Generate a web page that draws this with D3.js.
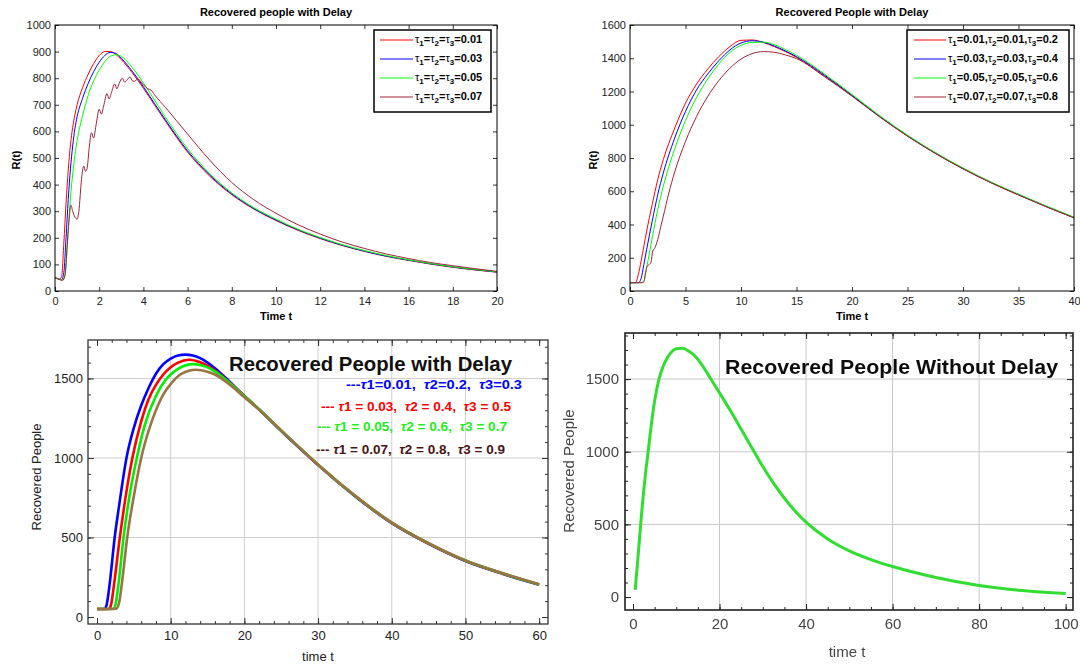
<!DOCTYPE html>
<html>
<head>
<meta charset="UTF-8">
<script src="https://d3js.org/d3.v7.min.js"></script>
<style>
  body { margin: 0; background: #fff; }
  text { white-space: pre; }
</style>
</head>
<body>
<svg></svg>
<script>
const W = 1080, H = 668;
const FONT = "Liberation Sans, Arial, Helvetica, sans-serif";

// ---------- top left: tau1 = tau2 = tau3 ----------
const tlTime = [0, 0.1, 0.2, 0.3, 0.4, 0.5, 0.6, 0.7, 0.8, 0.9, 1, 1.25, 1.5, 1.75, 2, 2.25, 2.5, 2.75, 3, 3.5, 4, 4.5, 5, 6, 7, 8, 9, 10, 11, 12, 13, 14, 15, 16, 17, 18, 19, 20];
const tlTau001 = [50, 47, 44, 55, 180, 330, 455, 550, 615, 662, 700, 765, 815, 855, 885, 900, 900, 890, 870, 820, 762, 700, 638, 522, 432, 362, 308, 265, 228, 197, 171, 149, 130, 115, 101, 89, 79, 71];
const tlTau003 = [50, 47, 44, 42, 70, 200, 345, 460, 545, 610, 655, 725, 780, 825, 860, 885, 897, 893, 875, 826, 768, 705, 643, 527, 436, 365, 310, 267, 230, 199, 172, 150, 131, 116, 102, 90, 80, 71];
const tlTau005 = [50, 47, 44, 42, 45, 90, 230, 350, 440, 510, 565, 660, 735, 790, 830, 862, 882, 888, 882, 840, 782, 718, 653, 535, 441, 369, 313, 270, 232, 201, 174, 152, 133, 117, 103, 91, 81, 72];
const tlTimeOsc = [0, 0.2, 0.35, 0.45, 0.55, 0.65, 0.72, 0.8, 0.9, 1.0, 1.08, 1.2, 1.3, 1.38, 1.45, 1.55, 1.65, 1.75, 1.85, 2.0, 2.1, 2.2, 2.35, 2.45, 2.55, 2.7, 2.8, 2.9, 3.05, 3.15, 3.25, 3.4, 3.5, 3.6, 3.75, 3.85, 4.0, 4.2, 4.35, 4.5, 5, 5.5, 6, 7, 8, 9, 10, 11, 12, 13, 14, 15, 16, 17, 18, 19, 20];
const tlTau007 = [50, 43, 40, 60, 170, 280, 323, 300, 278, 270, 300, 420, 470, 450, 460, 540, 595, 575, 620, 683, 665, 695, 742, 722, 745, 778, 760, 780, 800, 785, 792, 805, 790, 788, 798, 790, 775, 760, 755, 738, 690, 640, 590, 492, 408, 343, 292, 249, 214, 184, 160, 139, 122, 107, 95, 84, 74];
const tlTaus = ["0.01", "0.03", "0.05", "0.07"];
const tlXTicks = d3.range(0, 21, 2);
const tlYTicks = d3.range(0, 1001, 100);

// ---------- top right: different tau3 ----------
const trTime = [0, 0.5, 0.75, 1, 1.25, 1.5, 2, 2.5, 3, 4, 5, 6, 7, 8, 9, 10, 11, 12, 13, 14, 15, 17.5, 20, 22.5, 25, 27.5, 30, 32.5, 35, 37.5, 40];
const trSet1 = [50, 50, 100, 180, 270, 360, 520, 670, 790, 975, 1130, 1245, 1335, 1410, 1470, 1508, 1510, 1495, 1470, 1440, 1405, 1295, 1175, 1048, 932, 828, 735, 652, 578, 507, 440];
const trSet2 = [50, 50, 50, 75, 160, 250, 420, 580, 710, 915, 1080, 1210, 1305, 1385, 1450, 1492, 1505, 1497, 1474, 1444, 1410, 1300, 1177, 1050, 934, 830, 737, 654, 580, 509, 442];
const trSet3 = [50, 50, 50, 50, 60, 140, 320, 490, 630, 850, 1025, 1165, 1275, 1365, 1435, 1478, 1495, 1497, 1482, 1452, 1418, 1306, 1182, 1054, 937, 833, 740, 656, 582, 511, 444];
const trTime4 = [0, 1.1, 1.25, 1.4, 1.55, 1.75, 1.9, 2.05, 2.25, 2.5, 2.75, 3, 3.5, 4, 5, 6, 7, 8, 9, 10, 11, 12, 13, 14, 15, 17.5, 20, 22.5, 25, 27.5, 30, 32.5, 35, 37.5, 40];
const trSet4 = [50, 50, 55, 110, 150, 160, 175, 240, 260, 310, 380, 450, 590, 710, 900, 1050, 1170, 1265, 1340, 1395, 1428, 1440, 1436, 1420, 1398, 1290, 1172, 1047, 931, 828, 735, 652, 578, 507, 440];
const trTau1 = ["0.01", "0.03", "0.05", "0.07"];
const trTau2 = ["0.01", "0.03", "0.05", "0.07"];
const trTau3 = ["0.2", "0.4", "0.6", "0.8"];
const trXTicks = d3.range(0, 41, 5);
const trYTicks = d3.range(0, 1601, 200);

// ---------- bottom left: Mathematica style, with delay ----------
const blTimeBlue = [0, 1, 1.3, 1.7, 2.4, 3, 4, 5, 6, 7, 8, 9, 10, 11, 12, 13, 14, 15, 16, 18, 20, 22, 25, 28, 30, 35, 40, 45, 50, 55, 60];
const blBlue = [50, 50, 75, 200, 500, 700, 1000, 1190, 1330, 1440, 1530, 1590, 1625, 1645, 1650, 1645, 1628, 1600, 1565, 1480, 1390, 1305, 1170, 1040, 955, 760, 590, 460, 352, 272, 203];
const blTimeRed = [0, 1.6, 1.9, 2.3, 3.1, 3.8, 4.8, 6, 7, 8, 9, 10, 11, 12.5, 14, 15, 16, 18, 20, 22, 25, 28, 30, 35, 40, 45, 50, 55, 60];
const blRed = [50, 50, 75, 200, 500, 730, 1000, 1230, 1370, 1460, 1525, 1570, 1600, 1618, 1602, 1580, 1550, 1475, 1390, 1306, 1172, 1042, 957, 762, 592, 462, 354, 274, 204];
const blTimeGreen = [0, 2.2, 2.5, 2.9, 3.6, 4.4, 5.4, 6.5, 8, 9.3, 10, 11, 13, 14, 15, 16, 18, 20, 22, 25, 28, 30, 35, 40, 45, 50, 55, 60];
const blGreen = [50, 50, 75, 200, 500, 760, 1000, 1210, 1390, 1490, 1525, 1560, 1590, 1585, 1570, 1545, 1472, 1388, 1306, 1173, 1043, 958, 763, 593, 463, 355, 275, 205];
const blTimeBrown = [0, 2.6, 3, 3.4, 4.1, 5, 6, 7, 8, 9, 10, 11.5, 13.4, 15, 16, 18, 20, 22, 25, 28, 30, 35, 40, 45, 50, 55, 60];
const blBrown = [50, 52, 90, 220, 500, 760, 1000, 1170, 1300, 1400, 1465, 1530, 1555, 1543, 1525, 1462, 1382, 1304, 1172, 1043, 958, 764, 594, 464, 356, 276, 206];
const blTau1 = ["0.01", "0.03", "0.05", "0.07"];
const blTau2 = ["0.2", "0.4", "0.6", "0.8"];
const blTau3 = ["0.3", "0.5", "0.7", "0.9"];
const blXTicks = d3.range(0, 61, 10);
const blYTicks = [0, 500, 1000, 1500];

// ---------- bottom right: without delay ----------
const brTime = [0.5, 1, 1.5, 2, 2.5, 3, 3.5, 4, 5, 6, 7, 8, 9, 10, 11.5, 13, 14, 16, 18, 20, 22.5, 25, 27.5, 30, 32.5, 35, 37.5, 40, 45, 50, 55, 60, 70, 80, 90, 100];
const brValues = [50, 220, 400, 580, 740, 880, 1000, 1130, 1350, 1500, 1590, 1650, 1690, 1708, 1712, 1690, 1668, 1595, 1500, 1405, 1283, 1155, 1025, 898, 782, 680, 590, 515, 400, 318, 258, 210, 135, 80, 45, 25];
const brXTicks = d3.range(0, 101, 20);
const brYTicks = [0, 500, 1000, 1500];

const svg = d3.select("svg").attr("width", W).attr("height", H).attr("font-family", FONT);
svg.append("rect").attr("width", W).attr("height", H).attr("fill", "#fff");

const fmt = d3.format("d");

// MATLAB-like panel (top row)
function matlabPanel(box, xDom, yDom, xTicks, yTicks) {
  const x = d3.scaleLinear().domain(xDom).range([box.left, box.right]);
  const y = d3.scaleLinear().domain(yDom).range([box.bottom, box.top]);
  const g = svg.append("g");
  const axes = [
    [d3.axisBottom(x).tickValues(xTicks).tickFormat(fmt).tickPadding(6), `translate(0,${box.bottom})`],
    [d3.axisTop(x).tickValues(xTicks).tickFormat(""), `translate(0,${box.top})`],
    [d3.axisLeft(y).tickValues(yTicks).tickFormat(fmt).tickPadding(4), `translate(${box.left},0)`],
    [d3.axisRight(y).tickValues(yTicks).tickFormat(""), `translate(${box.right},0)`]
  ];
  axes.forEach(([ax, tr]) => {
    g.append("g").attr("transform", tr)
      .call(ax.tickSizeInner(-4).tickSizeOuter(0))
      .attr("font-family", FONT).attr("font-size", 11);
  });
  g.selectAll(".domain").remove();
  g.selectAll(".tick line").attr("stroke", "#000").attr("stroke-width", 0.8);
  g.selectAll(".tick text").attr("fill", "#222");
  return { x, y, g };
}

function drawLines(p, series, width) {
  const line = d3.line().x(d => p.x(d[0])).y(d => p.y(d[1])).curve(d3.curveMonotoneX);
  series.forEach(s => {
    p.g.append("path").datum(d3.zip(s.t, s.v))
      .attr("d", line).attr("fill", "none")
      .attr("stroke", s.color).attr("stroke-width", width)
      .attr("stroke-linejoin", "round");
  });
}

function frame(p, box, color, w) {
  p.g.append("rect")
    .attr("x", box.left).attr("y", box.top)
    .attr("width", box.right - box.left).attr("height", box.bottom - box.top)
    .attr("fill", "none").attr("stroke", color).attr("stroke-width", w);
}

// tau label with subscripts: parts = [[sub, value], ...]
function tauText(sel, parts, sep) {
  parts.forEach((pt, i) => {
    sel.append("tspan").text("\u03c4").attr("font-weight", "normal");
    sel.append("tspan").text(pt[0]).attr("dy", 3).attr("font-size", 8);
    sel.append("tspan").text("=" + pt[1] + (i < parts.length - 1 ? sep : "")).attr("dy", -3);
  });
}

// ===== top left =====
const tlBox = { left: 55, right: 497, top: 25, bottom: 291 };
const p1 = matlabPanel(tlBox, [0, 20], [0, 1000], tlXTicks, tlYTicks);
const tlColors = ["#ff0000", "#0000ff", "#00ff00", "#a3223a"];
drawLines(p1, [
  { t: tlTime, v: tlTau001, color: tlColors[0] },
  { t: tlTime, v: tlTau003, color: tlColors[1] },
  { t: tlTime, v: tlTau005, color: tlColors[2] },
  { t: tlTimeOsc, v: tlTau007, color: tlColors[3] }
], 1);
frame(p1, tlBox, "#000", 1);
p1.g.append("text").attr("x", 276).attr("y", 16).attr("text-anchor", "middle")
  .attr("font-size", 11).attr("font-weight", "bold").text("Recovered people with Delay");
p1.g.append("text").attr("x", 276).attr("y", 320).attr("text-anchor", "middle")
  .attr("font-size", 11).attr("font-weight", "bold").text("Time t");
p1.g.append("text").attr("transform", "translate(20,160) rotate(-90)").attr("text-anchor", "middle")
  .attr("font-size", 11).attr("font-weight", "bold").text("R(t)");
// legend
const lg1 = p1.g.append("g");
lg1.append("rect").attr("x", 374).attr("y", 30).attr("width", 117).attr("height", 82)
  .attr("fill", "#fff").attr("stroke", "#000").attr("stroke-width", 1.5);
tlTaus.forEach((tv, i) => {
  const yy = 40 + i * 19;
  lg1.append("line").attr("x1", 380).attr("x2", 413).attr("y1", yy).attr("y2", yy)
    .attr("stroke", tlColors[i]).attr("stroke-width", 1);
  const t = lg1.append("text").attr("x", 415).attr("y", yy + 3).attr("font-size", 11).attr("font-weight", "bold");
  t.append("tspan").text("\u03c4").attr("font-weight", "normal");
  t.append("tspan").text("1").attr("dy", 3).attr("font-size", 8);
  t.append("tspan").text("=").attr("dy", -3);
  t.append("tspan").text("\u03c4").attr("font-weight", "normal");
  t.append("tspan").text("2").attr("dy", 3).attr("font-size", 8);
  t.append("tspan").text("=").attr("dy", -3);
  t.append("tspan").text("\u03c4").attr("font-weight", "normal");
  t.append("tspan").text("3").attr("dy", 3).attr("font-size", 8);
  t.append("tspan").text("=" + tv).attr("dy", -3);
});

// ===== top right =====
const trBox = { left: 630, right: 1074, top: 25, bottom: 291 };
const p2 = matlabPanel(trBox, [0, 40], [0, 1600], trXTicks, trYTicks);
drawLines(p2, [
  { t: trTime, v: trSet1, color: tlColors[0] },
  { t: trTime, v: trSet2, color: tlColors[1] },
  { t: trTime, v: trSet3, color: tlColors[2] },
  { t: trTime4, v: trSet4, color: tlColors[3] }
], 1);
frame(p2, trBox, "#000", 1);
p2.g.append("text").attr("x", 852).attr("y", 16).attr("text-anchor", "middle")
  .attr("font-size", 11).attr("font-weight", "bold").text("Recovered People with Delay");
p2.g.append("text").attr("x", 852).attr("y", 320).attr("text-anchor", "middle")
  .attr("font-size", 11).attr("font-weight", "bold").text("Time t");
p2.g.append("text").attr("transform", "translate(597,160) rotate(-90)").attr("text-anchor", "middle")
  .attr("font-size", 11).attr("font-weight", "bold").text("R(t)");
const lg2 = p2.g.append("g");
lg2.append("rect").attr("x", 907).attr("y", 30).attr("width", 162).attr("height", 82)
  .attr("fill", "#fff").attr("stroke", "#000").attr("stroke-width", 1.5);
trTau1.forEach((tv, i) => {
  const yy = 40 + i * 19;
  lg2.append("line").attr("x1", 914).attr("x2", 946).attr("y1", yy).attr("y2", yy)
    .attr("stroke", tlColors[i]).attr("stroke-width", 1);
  const t = lg2.append("text").attr("x", 948).attr("y", yy + 3).attr("font-size", 11).attr("font-weight", "bold");
  tauText(t, [["1", tv], ["2", trTau2[i]], ["3", trTau3[i]]], ",");
});

// Mathematica-like panel (bottom row)
function mmaPanel(box, xDom, yDom, xMajor, xMinor, yMajor, yMinor, st) {
  const x = d3.scaleLinear().domain(xDom).range([box.left, box.right]);
  const y = d3.scaleLinear().domain(yDom).range([box.bottom, box.top]);
  const g = svg.append("g");
  // grid
  const gx = xMajor.filter(v => v > xMajor[0] && v < xMajor[xMajor.length - 1]);
  const gy = yMajor.filter(v => v > 0);
  g.selectAll(null).data(gx).join("line")
    .attr("x1", d => x(d)).attr("x2", d => x(d)).attr("y1", box.top).attr("y2", box.bottom)
    .attr("stroke", st.grid).attr("stroke-width", 1);
  g.selectAll(null).data(gy).join("line")
    .attr("y1", d => y(d)).attr("y2", d => y(d)).attr("x1", box.left).attr("x2", box.right)
    .attr("stroke", st.grid).attr("stroke-width", 1);
  const ticks = g.append("g");
  const defs = [
    [d3.axisBottom, x, xMajor, xMinor, `translate(0,${box.bottom})`, true, st.xPad],
    [d3.axisTop, x, xMajor, xMinor, `translate(0,${box.top})`, false, 0],
    [d3.axisLeft, y, yMajor, yMinor, `translate(${box.left},0)`, true, st.yPad],
    [d3.axisRight, y, yMajor, yMinor, `translate(${box.right},0)`, false, 0]
  ];
  defs.forEach(([axf, sc, maj, min, tr, lab, pad]) => {
    ticks.append("g").attr("transform", tr)
      .call(axf(sc).tickValues(min).tickFormat("").tickSizeInner(-3).tickSizeOuter(0));
    ticks.append("g").attr("transform", tr)
      .call(axf(sc).tickValues(maj).tickFormat(lab ? fmt : "").tickSizeInner(-6).tickSizeOuter(0).tickPadding(pad))
      .attr("font-family", FONT).attr("font-size", st.fs);
  });
  ticks.selectAll(".domain").remove();
  ticks.selectAll(".tick line").attr("stroke", st.axis).attr("stroke-width", 1);
  ticks.selectAll(".tick text").attr("fill", st.text);
  return { x, y, g, ticks };
}

// ===== bottom left =====
const blBox = { left: 88, right: 548, top: 340, bottom: 624 };
const p3 = mmaPanel(blBox, [-1.22, 61.2], [-44, 1742], blXTicks, d3.range(0, 61, 2), blYTicks, d3.range(0, 1701, 100),
  { grid: "#cfcfcf", axis: "#333", text: "#222", fs: 13, xPad: 7, yPad: 5 });
const blColors = ["#0000ff", "#ff0000", "#00ee00", "#9a7442"];
drawLines(p3, [
  { t: blTimeBlue, v: blBlue, color: blColors[0] },
  { t: blTimeRed, v: blRed, color: blColors[1] },
  { t: blTimeGreen, v: blGreen, color: blColors[2] },
  { t: blTimeBrown, v: blBrown, color: blColors[3] }
], 2.6);
p3.g.append("rect").attr("x", blBox.left).attr("y", blBox.top).attr("width", blBox.right - blBox.left)
  .attr("height", blBox.bottom - blBox.top).attr("fill", "none").attr("stroke", "#333").attr("stroke-width", 1.3);
p3.ticks.raise();
p3.g.append("text").attr("x", 229).attr("y", 371).attr("font-size", 20).attr("font-weight", "bold")
  .attr("textLength", 283).attr("lengthAdjust", "spacingAndGlyphs").attr("fill", "#111")
  .text("Recovered People with Delay");
p3.g.append("text").attr("x", 318).attr("y", 661).attr("text-anchor", "middle")
  .attr("font-size", 13).attr("fill", "#222").text("time t");
p3.g.append("text").attr("transform", "translate(41,477) rotate(-90)").attr("text-anchor", "middle")
  .attr("font-size", 13).attr("fill", "#222").text("Recovered People");
const blLegendColors = ["#0000ff", "#ff0000", "#22ee22", "#4b1313"];
const blLegendPos = [[346, 389, 176], [321, 411, 190], [317, 431, 190], [316, 454, 189]];
blTau1.forEach((tv, i) => {
  const [lx, ly, lw] = blLegendPos[i];
  const sp = i === 0 ? "" : " ";
  const t = p3.g.append("text").attr("x", lx).attr("y", ly).attr("font-size", 13).attr("font-weight", "bold")
    .attr("fill", blLegendColors[i]).attr("textLength", lw).attr("lengthAdjust", "spacingAndGlyphs");
  t.append("tspan").text("---" + sp);
  [["1", tv], ["2", blTau2[i]], ["3", blTau3[i]]].forEach((pt, k) => {
    t.append("tspan").text("\u03c4").attr("font-style", "italic");
    t.append("tspan").text(pt[0] + sp + "=" + sp + pt[1] + (k < 2 ? ",  " : ""));
  });
});

// ===== bottom right =====
const brBox = { left: 625, right: 1073, top: 333, bottom: 610 };
const blur = svg.append("defs").append("filter").attr("id", "soft");
blur.append("feGaussianBlur").attr("stdDeviation", 0.45);
const p4 = mmaPanel(brBox, [-1.85, 101.7], [-89, 1817], brXTicks, d3.range(0, 101, 5), brYTicks, d3.range(0, 1801, 100),
  { grid: "#c8c8c8", axis: "#222", text: "#444", fs: 15, xPad: 8, yPad: 6 });
p4.g.attr("filter", "url(#soft)");
drawLines(p4, [{ t: brTime, v: brValues, color: "#33dd33" }], 3);
p4.g.append("rect").attr("x", brBox.left).attr("y", brBox.top).attr("width", brBox.right - brBox.left)
  .attr("height", brBox.bottom - brBox.top).attr("fill", "none").attr("stroke", "#222").attr("stroke-width", 1.6);
p4.ticks.raise();
p4.g.append("text").attr("x", 725).attr("y", 374).attr("font-size", 20).attr("font-weight", "bold")
  .attr("textLength", 333).attr("lengthAdjust", "spacingAndGlyphs").attr("fill", "#111")
  .text("Recovered People Without Delay");
p4.g.append("text").attr("x", 847).attr("y", 657).attr("text-anchor", "middle")
  .attr("font-size", 15).attr("fill", "#444").text("time t");
p4.g.append("text").attr("transform", "translate(574,471) rotate(-90)").attr("text-anchor", "middle")
  .attr("font-size", 15).attr("fill", "#444").text("Recovered People");
</script>
</body>
</html>
